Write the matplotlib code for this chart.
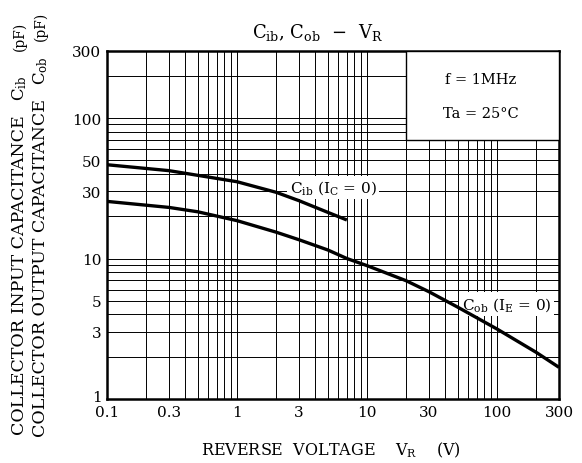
import matplotlib

matplotlib.use("Agg")
import matplotlib.pyplot as plt
import matplotlib.transforms as mtrans
from matplotlib.patches import Rectangle
from matplotlib.ticker import FixedLocator, FixedFormatter, LogLocator, NullFormatter

plt.rcParams["font.family"] = "DejaVu Serif"
plt.rcParams["mathtext.fontset"] = "dejavuserif"

# values
cib_v = [0.1, 0.3, 1, 2, 3, 5, 7]
cib_c = [46.5, 42.2, 35.2, 29.6, 25.8, 21.3, 18.8]
cob_v = [0.1, 0.3, 0.5, 1, 2, 3, 5, 7, 10, 20, 30, 50, 100, 200, 300]
cob_c = [25.5, 23.1, 21.5, 18.6, 15.4, 13.6, 11.5, 10.0, 8.9, 6.95, 5.8, 4.5, 3.15, 2.15, 1.68]

x_ticks = [0.1, 0.3, 1, 3, 10, 30, 100, 300]
x_labels = ["0.1", "0.3", "1", "3", "10", "30", "100", "300"]
y_ticks = [1, 3, 5, 10, 30, 50, 100, 300]
y_labels = ["1", "3", "5", "10", "30", "50", "100", "300"]

fig = plt.figure(figsize=(5.82, 4.64), dpi=100)
ax = fig.add_axes([0.1838, 0.1379, 0.7767, 0.7501])
ax.set_xscale("log")
ax.set_yscale("log")
ax.set_xlim(0.1, 300)
ax.set_ylim(1, 300)

ax.xaxis.set_major_locator(FixedLocator(x_ticks))
ax.xaxis.set_major_formatter(FixedFormatter(x_labels))
ax.yaxis.set_major_locator(FixedLocator(y_ticks))
ax.yaxis.set_major_formatter(FixedFormatter(y_labels))
ax.xaxis.set_minor_locator(LogLocator(base=10, subs=range(1, 10), numticks=20))
ax.yaxis.set_minor_locator(LogLocator(base=10, subs=range(1, 10), numticks=20))
ax.xaxis.set_minor_formatter(NullFormatter())
ax.yaxis.set_minor_formatter(NullFormatter())
ax.tick_params(which="both", length=0, labelsize=11, pad=4)
ax.grid(which="both", color="black", lw=0.7)
for s in ax.spines.values():
    s.set_linewidth(1.8)

# nudge the "1" up a bit so it clears "0.1", as in the reference
fig.canvas.draw()
lab = ax.yaxis.get_majorticklabels()[0]
lab.set_transform(lab.get_transform() + mtrans.ScaledTranslation(0, 4 / 100, fig.dpi_scale_trans))

ax.plot(cib_v, cib_c, color="black", lw=2.4, solid_capstyle="butt", zorder=6)
ax.plot(cob_v, cob_c, color="black", lw=2.4, solid_capstyle="butt", zorder=6)

ax.add_patch(Rectangle((20, 70), 280, 230, facecolor="white", edgecolor="black",
                       lw=1.0, zorder=3))
ax.text(0.827, 0.92, "f = 1MHz", transform=ax.transAxes, ha="center", va="center",
        fontsize=10.5, zorder=5)
ax.text(0.827, 0.822, "Ta = 25°C", transform=ax.transAxes, ha="center", va="center",
        fontsize=10.5, zorder=5)

box = dict(facecolor="white", edgecolor="none", pad=2)
ax.text(5.5, 32, r"C$_{\rm ib}$ (I$_{\rm C}$ = 0)", ha="center", va="center",
        fontsize=11, bbox=box, zorder=5)
ax.text(119, 4.75, r"C$_{\rm ob}$ (I$_{\rm E}$ = 0)", ha="center", va="center",
        fontsize=11, bbox=box, zorder=5)

fig.text(0.546, 0.931, r"C$_{\rm ib}$, C$_{\rm ob}$  $-$  V$_{\rm R}$", ha="center",
         va="center", fontsize=13)
fig.text(0.569, 0.030, r"REVERSE  VOLTAGE    V$_{\rm R}$    (V)", ha="center",
         va="center", fontsize=11.5)

# y label: two stacked lines, drawn in pieces so the symbols line up
for x, y0, ysym, ypf, main, sym in [
        (0.034, 0.0625, 0.810, 0.922, "COLLECTOR INPUT CAPACITANCE", r"C$_{\rm ib}$"),
        (0.070, 0.058, 0.847, 0.944, "COLLECTOR OUTPUT CAPACITANCE", r"C$_{\rm ob}$")]:
    fig.text(x, y0, main, rotation=90, ha="center", va="bottom", fontsize=12.5)
    fig.text(x, ysym, sym, rotation=90, ha="center", va="center", fontsize=12)
    fig.text(x, ypf, "(pF)", rotation=90, ha="center", va="center", fontsize=10)

fig.savefig("out.png", dpi=100)
